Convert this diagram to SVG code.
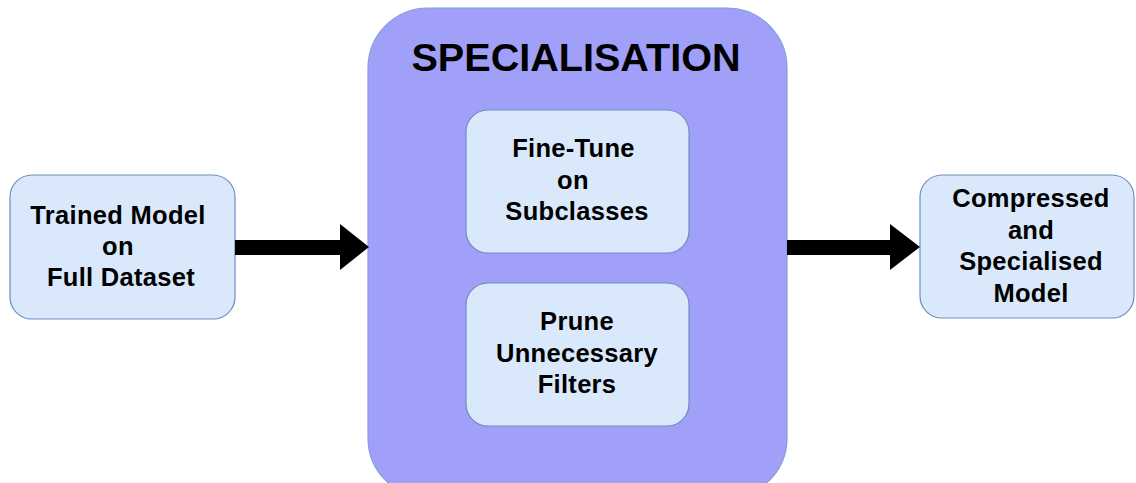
<svg xmlns="http://www.w3.org/2000/svg" width="1136" height="483" viewBox="0 0 1136 483">
<style>
.box{fill:#dae8fc;stroke:#6c8ebf;stroke-width:1.2}
.cont{fill:#a0a0f8;stroke:#7f9fe0;stroke-width:1.2}
.t{font-family:"Liberation Sans",Arial,sans-serif;font-weight:bold;font-size:25.5px;letter-spacing:0.3px;fill:#000;text-anchor:middle}
.title{font-family:"Liberation Sans",Arial,sans-serif;font-weight:bold;font-size:39.6px;fill:#000;text-anchor:middle}
.arrow{fill:#000;stroke:none}
</style>
<rect width="1136" height="483" fill="#ffffff"/>
<g id="specialisation">
<rect class="cont" x="368" y="8" width="419" height="490" rx="60"/>
<text class="title" x="576" y="71">SPECIALISATION</text>
</g>
<g id="trained-model">
<rect class="box" x="10" y="175" width="225" height="144" rx="22"/>
<text class="t" x="118" y="223.5">Trained Model</text>
<text class="t" x="118" y="255">on</text>
<text class="t" x="121" y="286">Full Dataset</text>
</g>
<g id="fine-tune">
<rect class="box" x="466" y="110" width="223" height="143" rx="22"/>
<text class="t" x="573.5" y="157">Fine-Tune</text>
<text class="t" x="573" y="188.5">on</text>
<text class="t" x="577" y="219.5">Subclasses</text>
</g>
<g id="prune">
<rect class="box" x="466" y="283" width="223" height="143" rx="22"/>
<text class="t" x="577" y="330">Prune</text>
<text class="t" x="577" y="361.5">Unnecessary</text>
<text class="t" x="577" y="393">Filters</text>
</g>
<g id="compressed-model">
<rect class="box" x="920" y="175" width="214" height="143" rx="22"/>
<text class="t" x="1031" y="207">Compressed</text>
<text class="t" x="1031" y="238.5">and</text>
<text class="t" x="1031" y="270">Specialised</text>
<text class="t" x="1031" y="301.5">Model</text>
</g>
<g id="connectors">
<path class="arrow" d="M235,240 L340,240 L340,224 L369,247 L340,270 L340,255 L235,255 Z"/>
<path class="arrow" d="M787,240 L890,240 L890,224 L920,247 L890,270 L890,255 L787,255 Z"/>
</g>
</svg>
